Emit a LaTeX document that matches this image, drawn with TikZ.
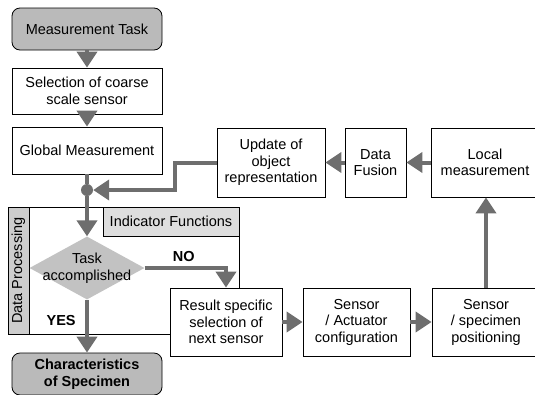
\documentclass[tikz,border=0pt]{standalone}
\usepackage{fontspec}
\setmainfont{Liberation Sans}
\usetikzlibrary{arrows.meta}
\usetikzlibrary{shapes.geometric}

\definecolor{boxgray}{HTML}{BABABA}
\definecolor{diagray}{HTML}{C2C2C2}
\definecolor{indgray}{HTML}{DEDEDE}
\definecolor{stripgray}{HTML}{CDCDCD}
\definecolor{arrowgray}{HTML}{6E6E6E}

\tikzset{
    box/.style={draw, line width=0.8pt, fill=white, align=center, inner sep=0pt},
    terminal/.style={box, rounded corners=8pt, fill=boxgray},
    flowline/.style={line width=4pt, draw=arrowgray},
    flow/.style={flowline, -{Triangle[width=20pt, length=16pt]}},
    answer/.style={font=\fontsize{14.5}{16.5}\selectfont\bfseries}
}

\begin{document}
\begin{tikzpicture}[x=1pt, y=-1pt, font=\fontsize{14.5}{16.5}\selectfont]

        \clip (0, 0) rectangle (535, 394);

        % Declare the data processing frame
        \node[draw, line width=0.8pt, minimum width=231, minimum height=127] at (123.5, 270.5) (frame) {};
        \node[draw, line width=0.8pt, fill=stripgray, rotate=90, minimum width=127, minimum height=21, inner sep=0pt] at (18.5, 270.5) (strip) {Data Processing};
        \node[draw, line width=0.8pt, fill=indgray, minimum width=136, minimum height=29, inner sep=0pt] at (171, 221.5) (ind) {Indicator Functions};

        % Declare the boxes
        \node[terminal, minimum width=150, minimum height=42] at (87, 29) (task) {Measurement Task};
        \node[box, minimum width=150, minimum height=46] at (87, 91) (sel) {Selection of coarse\\scale sensor};
        \node[box, minimum width=150, minimum height=47] at (87, 150.5) (glob) {Global Measurement};
        \node[circle, fill=arrowgray, minimum size=12, inner sep=0pt] at (87, 190) (junc) {};
        \node[diamond, fill=diagray, minimum width=115, minimum height=63, inner sep=0pt,
              label={[align=center]center:Task\\accomplished}] at (87, 268) (dec) {};
        \node[terminal, minimum width=150, minimum height=42, answer] at (87, 374) (spec) {Characteristics\\of Specimen};

        \node[box, minimum width=108, minimum height=69] at (271, 162.5) (upd) {Update of\\object\\representation};
        \node[box, minimum width=61, minimum height=69] at (375.5, 162.5) (fus) {Data\\Fusion};
        \node[box, minimum width=108, minimum height=69] at (485, 162.5) (loc) {Local\\measurement};

        \node[box, minimum width=112, minimum height=68] at (226, 322) (res) {Result specific\\selection of\\next sensor};
        \node[box, minimum width=107, minimum height=68] at (356.5, 322) (act) {Sensor\\/ Actuator\\configuration};
        \node[box, minimum width=108, minimum height=68] at (486, 322) (pos) {Sensor\\/ specimen\\positioning};

        % Declare edges
        \draw[flow] (task) -- (sel);
        \draw[flow] (sel) -- (glob);
        \draw[flowline] (glob) -- (junc);
        \draw[flow] (junc) -- (dec);
        \draw[flow] (dec) -- (spec) node[pos=0.4, left=6pt, answer] {YES};
        \draw[flow] (dec.east) -| (res.north) node[pos=0.24, above=1pt, answer] {NO};
        \draw[flow] (res) -- (act);
        \draw[flow] (act) -- (pos);
        \draw[flow] (pos.north) -- (pos.north |- loc.south);
        \draw[flow] (loc) -- (fus);
        \draw[flow] (fus) -- (upd);

        % Declare the feedback edge
        \coordinate (kink) at (175, 162.5);
        \draw[flow] (upd.west) -- (kink) |- (junc);

    \end{tikzpicture}
\end{document}
